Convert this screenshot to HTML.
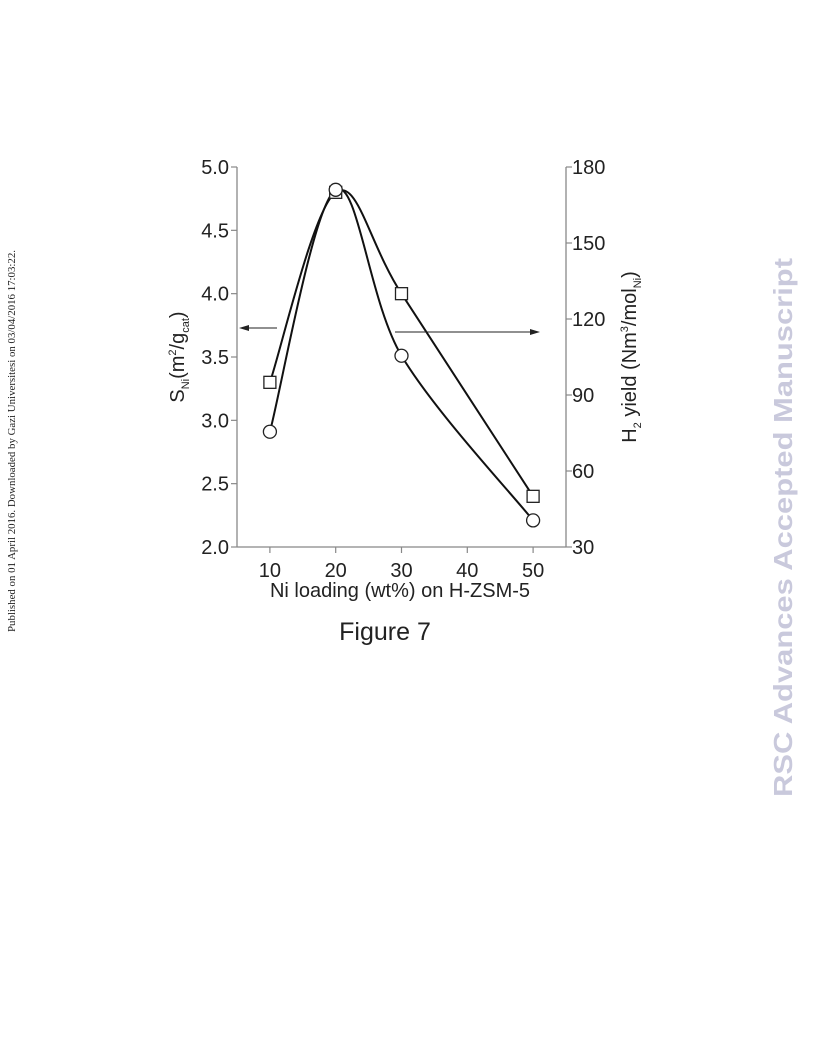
<!DOCTYPE html>
<html><head><meta charset="utf-8"><style>
html,body{margin:0;padding:0;background:#fff;}
svg{display:block;font-family:"Liberation Sans",sans-serif;}
</style></head><body>
<svg width="816" height="1056" viewBox="0 0 816 1056">
<text transform="translate(15,632) rotate(-90)" font-family="Liberation Serif, serif" font-size="10" fill="#222" textLength="382" lengthAdjust="spacingAndGlyphs">Published on 01 April 2016. Downloaded by Gazi Universitesi on 03/04/2016 17:03:22.</text>
<text transform="translate(792,797) rotate(-90)" font-size="26" font-weight="bold" fill="#c9c9dc" textLength="539" lengthAdjust="spacingAndGlyphs">RSC Advances Accepted Manuscript</text>
<g id="chart"></g>
<text x="385" y="640" text-anchor="middle" font-size="25" fill="#222">Figure 7</text>
</svg>
<script>
const xCategories=[10,20,30,50];
const surfaceArea=[2.91,4.82,3.51,2.21];
const h2Yield=[95,170,130,50];
const xTicks=[10,20,30,40,50];
const leftTicks=["2.0","2.5","3.0","3.5","4.0","4.5","5.0"];
const rightTicks=[30,60,90,120,150,180];

const NS="http://www.w3.org/2000/svg";
const g=document.getElementById('chart');
const L=237,R=566,T=167,B=547;
const xS=v=>L+(v-5)/50*(R-L);
const yL=v=>B-(v-2)/3*(B-T);
const yR=v=>B-(v-30)/150*(B-T);
function mk(tag,attrs){const e=document.createElementNS(NS,tag);for(const k in attrs)e.setAttribute(k,attrs[k]);g.appendChild(e);return e;}
let e;
e=mk('line',{x1:L,y1:T,x2:L,y2:B,stroke:'#888','stroke-width':1.3});


e=mk('line',{x1:R,y1:T,x2:R,y2:B,stroke:'#888','stroke-width':1.3});


e=mk('line',{x1:L,y1:B,x2:R,y2:B,stroke:'#888','stroke-width':1.3});


xTicks.forEach(v=>{
 const t=mk('line',{x1:xS(v),y1:B,x2:xS(v),y2:B+6,stroke:'#888','stroke-width':1.2});
 
 
 const l=mk('text',{x:xS(v),y:B+30,'text-anchor':'middle','font-size':20,fill:'#222'});l.textContent=v;
 
 
});
leftTicks.forEach(s=>{
 const y=yL(parseFloat(s));
 const t=mk('line',{x1:L-6,y1:y,x2:L,y2:y,stroke:'#888','stroke-width':1.2});
 
 
 const l=mk('text',{x:L-8,y:y+7,'text-anchor':'end','font-size':20,fill:'#222'});l.textContent=s;
 
 
});
rightTicks.forEach(v=>{
 const y=yR(v);
 const t=mk('line',{x1:R,y1:y,x2:R+6,y2:y,stroke:'#888','stroke-width':1.2});
 
 
 const l=mk('text',{x:R+6,y:y+7,'font-size':20,fill:'#222'});l.textContent=v;
 
 
});
function curve(pts){
 let d='M'+pts[0][0]+','+pts[0][1];
 for(let i=0;i<pts.length-1;i++){
  const p0=pts[i-1]||pts[i],p1=pts[i],p2=pts[i+1],p3=pts[i+2]||p2;
  const c1=[p1[0]+(p2[0]-p0[0])/6,p1[1]+(p2[1]-p0[1])/6];
  const c2=[p2[0]-(p3[0]-p1[0])/6,p2[1]-(p3[1]-p1[1])/6];
  d+=' C'+c1+' '+c2+' '+p2;
 }
 return d;
}
const cp=xCategories.map((x,i)=>[xS(x),yL(surfaceArea[i])]);
const sp=xCategories.map((x,i)=>[xS(x),yR(h2Yield[i])]);
e=mk('path',{d:curve(sp),fill:'none',stroke:'#111','stroke-width':2});


e=mk('path',{d:curve(cp),fill:'none',stroke:'#111','stroke-width':2});


sp.forEach(p=>{
 const m=mk('rect',{x:p[0]-6,y:p[1]-6,width:12,height:12,fill:'#fff',stroke:'#222','stroke-width':1.3});
 
 
});
cp.forEach(p=>{
 const m=mk('circle',{cx:p[0],cy:p[1],r:6.5,fill:'#fff',stroke:'#222','stroke-width':1.3});
 
 
});
// arrows
e=mk('line',{x1:244,y1:328,x2:277,y2:328,stroke:'#222','stroke-width':1});


e=mk('path',{d:'M239,328 L249,325 L249,331 Z',fill:'#222'});


e=mk('line',{x1:395,y1:332,x2:534,y2:332,stroke:'#222','stroke-width':1});


e=mk('path',{d:'M540,332 L530,329 L530,335 Z',fill:'#222'});


// axis titles
e=mk('text',{x:400,y:597,'text-anchor':'middle','font-size':20,fill:'#222'});
e.textContent='Ni loading (wt%) on H-ZSM-5';


e=mk('text',{transform:'translate(184,357) rotate(-90)','text-anchor':'middle','font-size':20,fill:'#222'});
e.innerHTML='S<tspan font-size="11" dy="5">Ni</tspan><tspan dy="-5">(m</tspan><tspan font-size="11" dy="-8">2</tspan><tspan dy="8">/g</tspan><tspan font-size="11" dy="5">cat</tspan><tspan dy="-5">)</tspan>';


e=mk('text',{transform:'translate(636,357) rotate(-90)','text-anchor':'middle','font-size':20,fill:'#222'});
e.innerHTML='H<tspan font-size="11" dy="5">2</tspan><tspan dy="-5"> yield (Nm</tspan><tspan font-size="11" dy="-8">3</tspan><tspan dy="8">/mol</tspan><tspan font-size="11" dy="5">Ni</tspan><tspan dy="-5">)</tspan>';


</script>
</body></html>
